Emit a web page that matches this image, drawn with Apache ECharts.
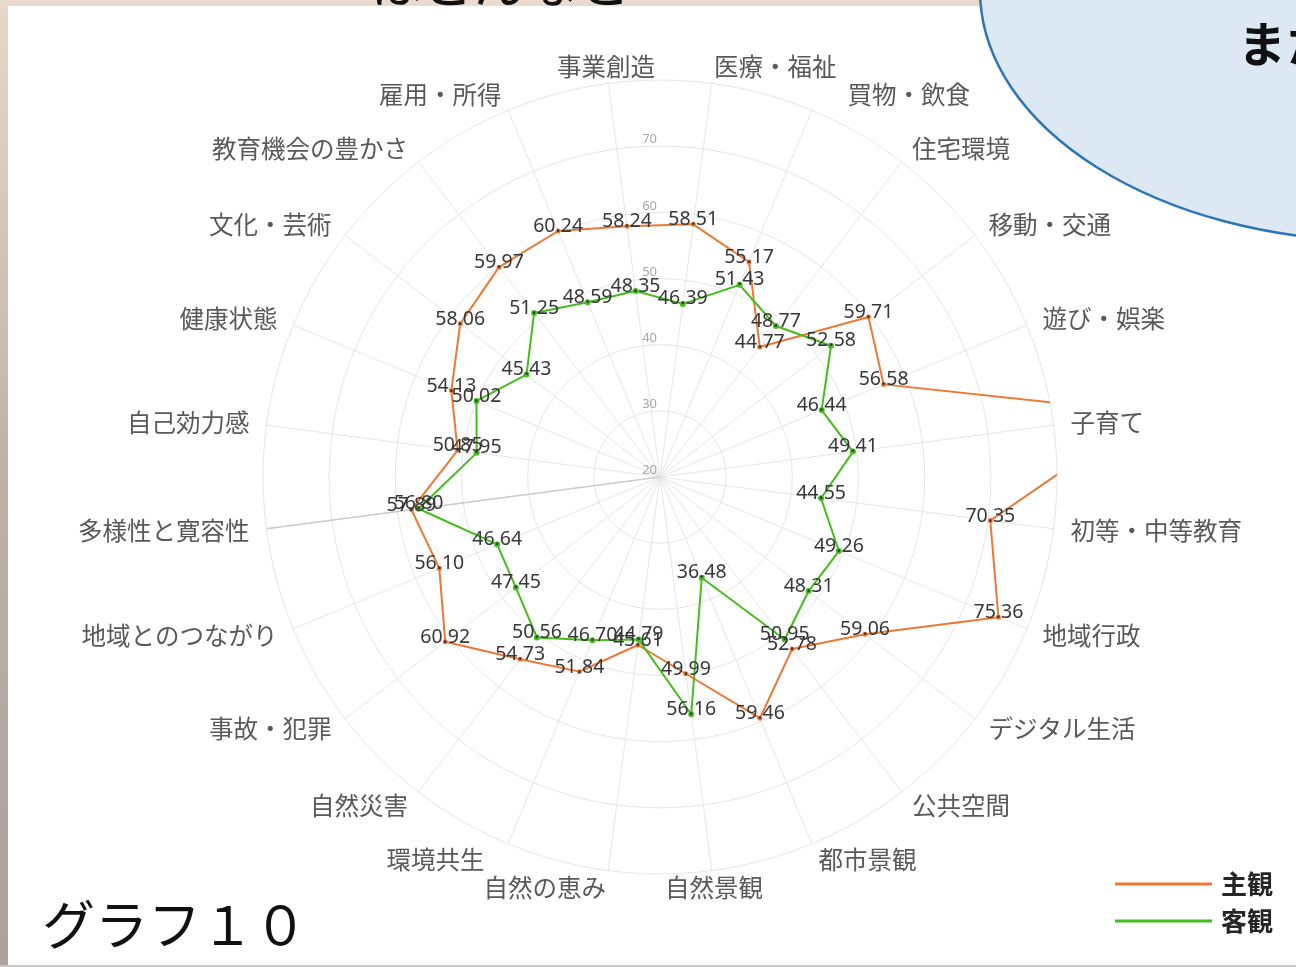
<!DOCTYPE html>
<html>
<head>
<meta charset="utf-8">
<script src="https://cdn.jsdelivr.net/npm/echarts@6/dist/echarts.min.js"></script>
<style>
html,body{margin:0;padding:0;background:#fff;}
#c{width:1296px;height:967px;}
</style>
</head>
<body>
<div id="c"></div>
<script>
// ---- data ----
const categories = ['医療・福祉','買物・飲食','住宅環境','移動・交通','遊び・娯楽','子育て','初等・中等教育','地域行政','デジタル生活','公共空間','都市景観','自然景観','自然の恵み','環境共生','自然災害','事故・犯罪','地域とのつながり','多様性と寛容性','自己効力感','健康状態','文化・芸術','教育機会の豊かさ','雇用・所得','事業創造'];
const subjective = [58.51,55.17,44.77,59.71,56.58,94.30,70.35,75.36,59.06,52.78,59.46,49.99,45.61,51.84,54.73,60.92,56.10,57.89,50.85,54.13,58.06,59.97,60.24,58.24];
const objective  = [46.39,51.43,48.77,52.58,46.44,49.41,44.55,49.26,48.31,50.95,36.48,56.16,44.79,46.70,50.56,47.45,46.64,56.80,47.95,50.02,45.43,51.25,48.59,48.35];
const seriesNames = ['主観','客観'];
const axisMin = 20, axisMax = 80, axisStep = 10;
const highlightedAxis = '多様性と寛容性';

// ---- styling ----
const ORANGE = '#ee7733', GREEN = '#44bd1c';
const CX = 660, CY = 477, R = 397;
const nameFont = {fontSize: 24.5, color: '#595959', fontFamily: '"Noto Sans CJK JP"'};
// per-label nudges (Excel placed a few names differently)
const nameNudge = {'買物・飲食':'pl29','自然景観':'plm49','環境共生':'pr17','事業創造':'prm49'};

function closedRing(values){
  const pts = values.map((v,i)=>[v,i]);
  pts.push({value:[values[0], values.length], symbol:'none', label:{show:false}});
  return pts;
}

const chart = echarts.init(document.getElementById('c'), null, {renderer:'canvas'});
const labelStyle = {
  show:true, position:'top', distance:-8, color:'#383838', fontSize:19.5,
  fontFamily:'"Noto Sans", sans-serif',
  formatter: p => Number(p.value[0]).toFixed(2)
};
const hiIdx = categories.indexOf(highlightedAxis);

chart.setOption({
  animation:false,
  backgroundColor:'#e9dacd',
  graphic:[
    {type:'rect', silent:true, z:-19, shape:{x:8,y:6,width:1288,height:959}, style:{fill:'#ffffff'}},
    {type:'rect', silent:true, z:-19, shape:{x:0,y:0,width:8,height:967},
      style:{fill:{type:'linear',x:0,y:0,x2:0,y2:1,colorStops:[{offset:0,color:'#e8d8ca'},{offset:0.5,color:'#bdb1a6'},{offset:1,color:'#a9a29b'}]}}},
    {type:'rect', silent:true, z:-18, shape:{x:0,y:965,width:1296,height:2}, style:{fill:'#c6c6c6'}},
    {type:'text', silent:true, z:5, x:370, y:9,
      style:{text:'はどんなと', fontSize:52, fontFamily:'"Noto Sans CJK JP"', fill:'#111', align:'left', verticalAlign:'bottom'}},
    {type:'ellipse', silent:true, z:20, shape:{cx:1380, cy:-10, rx:400, ry:251},
      style:{fill:'#dde8f5', stroke:'#2e75b6', lineWidth:2.5}},
    {type:'text', silent:true, z:21, x:1238, y:44,
      style:{text:'また', fontSize:48, fontWeight:'bold', fontFamily:'"Noto Sans CJK JP"', fill:'#111', align:'left', verticalAlign:'middle'}},
    {type:'text', silent:true, z:5, x:42, y:925,
      style:{text:'グラフ１０', fontSize:53, fontFamily:'"Noto Sans CJK JP"', fill:'#111', align:'left', verticalAlign:'middle'}}
  ],
  radar:{
    center:[CX,CY], radius:R, startAngle:97.5, shape:'circle', splitNumber:6,
    axisNameGap:17,
    indicator: categories.slice().reverse().map(n=>({name:n, min:axisMin, max:axisMax})),
    axisName:Object.assign({}, nameFont, {
      formatter:(name)=> nameNudge[name] ? '{'+nameNudge[name]+'|'+name+'}' : name,
      rich:{
        pl29:Object.assign({}, nameFont, {padding:[0,0,0,29]}),
        plm49:Object.assign({}, nameFont, {padding:[0,0,0,-49]}),
        pr17:Object.assign({}, nameFont, {padding:[0,17,0,0]}),
        prm49:Object.assign({}, nameFont, {padding:[0,-49,0,0]})
      }
    }),
    axisLine:{lineStyle:{color:'#e6e6e6', width:1}},
    splitLine:{lineStyle:{color:'#e6e6e6', width:1}},
    splitArea:{show:false},
    axisTick:{show:false},
    axisLabel:{show:false}
  },
  polar:{center:[CX,CY], radius:R},
  angleAxis:{type:'value', min:-0.5, max:categories.length-0.5, startAngle:90, clockwise:true, show:false},
  radiusAxis:{
    type:'value', min:axisMin, max:axisMax, interval:axisStep,
    axisLine:{show:false}, axisTick:{show:false}, splitLine:{show:false},
    axisLabel:{color:'#a6a6a6', fontSize:13, margin:3, verticalAlign:'bottom', showMaxLabel:false, fontFamily:'"Noto Sans", sans-serif'}
  },
  legend:{
    data:seriesNames, orient:'vertical', left:1110, top:866,
    itemWidth:97, itemHeight:3, itemGap:11, icon:'rect',
    textStyle:{fontSize:26, fontWeight:'bold', color:'#262626', fontFamily:'"Noto Sans CJK JP"', padding:[0,0,0,4]}
  },
  series:[
    {type:'line', coordinateSystem:'polar', silent:true, z:1,
      data:[[axisMin,hiIdx],[axisMax,hiIdx]], symbol:'none',
      lineStyle:{color:'#cccccc', width:1.6}, label:{show:false}},
    {type:'line', coordinateSystem:'polar', name:seriesNames[0], z:3, clip:true,
      data:closedRing(subjective), symbol:'circle', symbolSize:5,
      lineStyle:{color:ORANGE, width:2}, itemStyle:{color:ORANGE}, label:labelStyle},
    {type:'line', coordinateSystem:'polar', name:seriesNames[1], z:3, clip:true,
      data:closedRing(objective), symbol:'circle', symbolSize:6,
      lineStyle:{color:GREEN, width:2}, itemStyle:{color:GREEN}, label:labelStyle}
  ]
});
</script>
</body>
</html>
